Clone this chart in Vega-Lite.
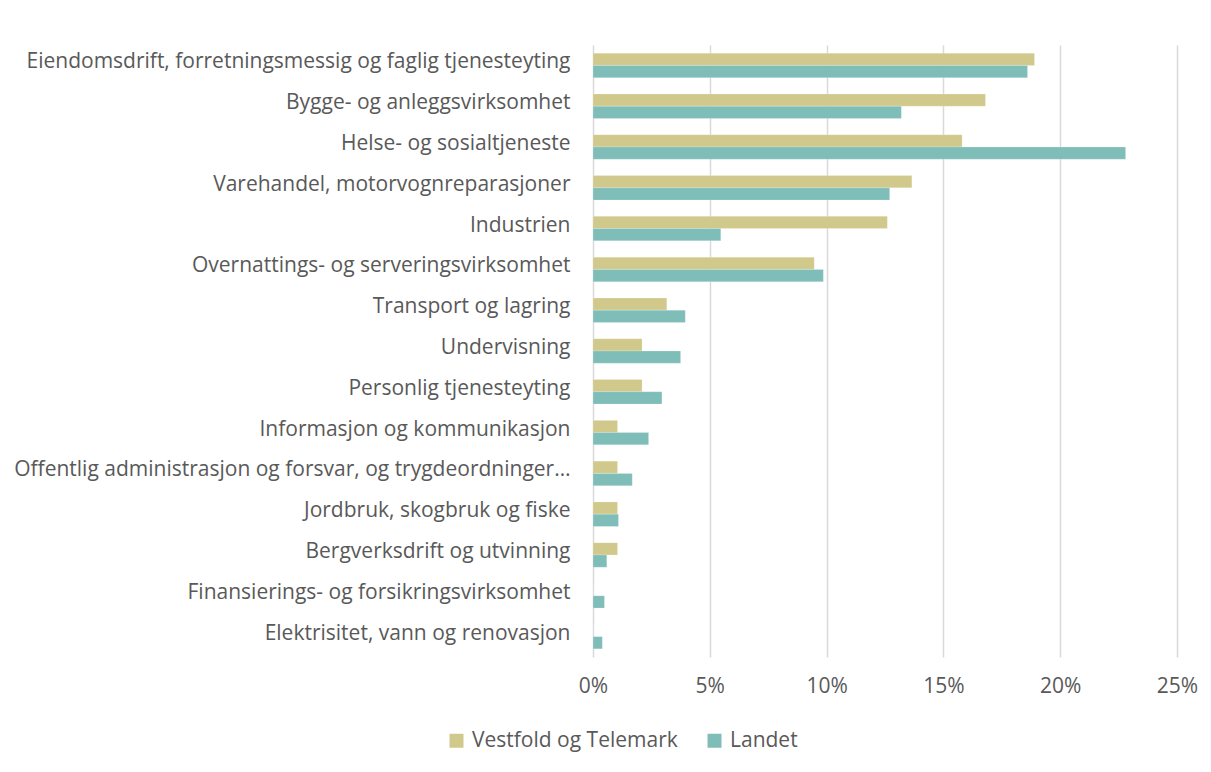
{
  "$schema": "https://vega.github.io/schema/vega-lite/v6.json",
  "autosize": "none",
  "width": 584,
  "height": 612,
  "padding": {"left": 593, "top": 45, "right": 34, "bottom": 115},
  "background": "white",
  "config": {
    "view": {"stroke": null},
    "font": "Open Sans",
    "axis": {"labelFont": "Open Sans", "labelColor": "#595959", "labelFontSize": 21},
    "legend": {"labelFont": "Open Sans", "labelColor": "#595959", "labelFontSize": 21}
  },
  "data": {
    "values": [
      {"kategori": "Eiendomsdrift, forretningsmessig og faglig tjenesteyting", "serie": "Vestfold og Telemark", "andel": 18.9},
      {"kategori": "Eiendomsdrift, forretningsmessig og faglig tjenesteyting", "serie": "Landet", "andel": 18.6},
      {"kategori": "Bygge- og anleggsvirksomhet", "serie": "Vestfold og Telemark", "andel": 16.8},
      {"kategori": "Bygge- og anleggsvirksomhet", "serie": "Landet", "andel": 13.2},
      {"kategori": "Helse- og sosialtjeneste", "serie": "Vestfold og Telemark", "andel": 15.8},
      {"kategori": "Helse- og sosialtjeneste", "serie": "Landet", "andel": 22.8},
      {"kategori": "Varehandel, motorvognreparasjoner", "serie": "Vestfold og Telemark", "andel": 13.65},
      {"kategori": "Varehandel, motorvognreparasjoner", "serie": "Landet", "andel": 12.7},
      {"kategori": "Industrien", "serie": "Vestfold og Telemark", "andel": 12.6},
      {"kategori": "Industrien", "serie": "Landet", "andel": 5.47},
      {"kategori": "Overnattings- og serveringsvirksomhet", "serie": "Vestfold og Telemark", "andel": 9.47},
      {"kategori": "Overnattings- og serveringsvirksomhet", "serie": "Landet", "andel": 9.86},
      {"kategori": "Transport og lagring", "serie": "Vestfold og Telemark", "andel": 3.16},
      {"kategori": "Transport og lagring", "serie": "Landet", "andel": 3.95},
      {"kategori": "Undervisning", "serie": "Vestfold og Telemark", "andel": 2.1},
      {"kategori": "Undervisning", "serie": "Landet", "andel": 3.75},
      {"kategori": "Personlig tjenesteyting", "serie": "Vestfold og Telemark", "andel": 2.1},
      {"kategori": "Personlig tjenesteyting", "serie": "Landet", "andel": 2.95},
      {"kategori": "Informasjon og kommunikasjon", "serie": "Vestfold og Telemark", "andel": 1.05},
      {"kategori": "Informasjon og kommunikasjon", "serie": "Landet", "andel": 2.38},
      {"kategori": "Offentlig administrasjon og forsvar, og trygdeordninger underlagt offentlig forvaltning", "serie": "Vestfold og Telemark", "andel": 1.05},
      {"kategori": "Offentlig administrasjon og forsvar, og trygdeordninger underlagt offentlig forvaltning", "serie": "Landet", "andel": 1.68},
      {"kategori": "Jordbruk, skogbruk og fiske", "serie": "Vestfold og Telemark", "andel": 1.05},
      {"kategori": "Jordbruk, skogbruk og fiske", "serie": "Landet", "andel": 1.09},
      {"kategori": "Bergverksdrift og utvinning", "serie": "Vestfold og Telemark", "andel": 1.05},
      {"kategori": "Bergverksdrift og utvinning", "serie": "Landet", "andel": 0.59},
      {"kategori": "Finansierings- og forsikringsvirksomhet", "serie": "Vestfold og Telemark", "andel": 0},
      {"kategori": "Finansierings- og forsikringsvirksomhet", "serie": "Landet", "andel": 0.49},
      {"kategori": "Elektrisitet, vann og renovasjon", "serie": "Vestfold og Telemark", "andel": 0},
      {"kategori": "Elektrisitet, vann og renovasjon", "serie": "Landet", "andel": 0.4}
    ]
  },
  "mark": {"type": "bar", "stroke": "white", "strokeOpacity": 0.4, "strokeWidth": 0.5},
  "encoding": {
    "y": {
      "field": "kategori",
      "type": "nominal",
      "sort": null,
      "title": null,
      "scale": {"paddingInner": 0.4, "paddingOuter": 0.2},
      "axis": {"ticks": false, "domain": false, "labelPadding": 23, "labelLimit": 560, "labelBaseline": "middle", "labelOffset": -3}
    },
    "yOffset": {
      "field": "serie",
      "type": "nominal",
      "sort": ["Vestfold og Telemark", "Landet"]
    },
    "x": {
      "field": "andel",
      "type": "quantitative",
      "title": null,
      "scale": {"domain": [0, 25], "nice": false},
      "axis": {
        "values": [0, 5, 10, 15, 20, 25],
        "labelExpr": "datum.value + '%'",
        "labelFlush": false,
        "grid": true,
        "gridColor": "#d9d9d9",
        "gridWidth": 1.5,
        "domain": false,
        "ticks": false,
        "labelPadding": 18
      }
    },
    "color": {
      "field": "serie",
      "type": "nominal",
      "sort": ["Vestfold og Telemark", "Landet"],
      "scale": {"domain": ["Vestfold og Telemark", "Landet"], "range": ["#d0c98b", "#7fbdb8"]},
      "legend": {
        "title": null,
        "orient": "none",
        "direction": "horizontal",
        "legendX": -147,
        "legendY": 685,
        "symbolType": "square",
        "symbolSize": 196,
        "symbolStrokeWidth": 0,
        "columnPadding": 26,
        "labelOffset": 5,
        "labelLimit": 0
      }
    }
  }
}
